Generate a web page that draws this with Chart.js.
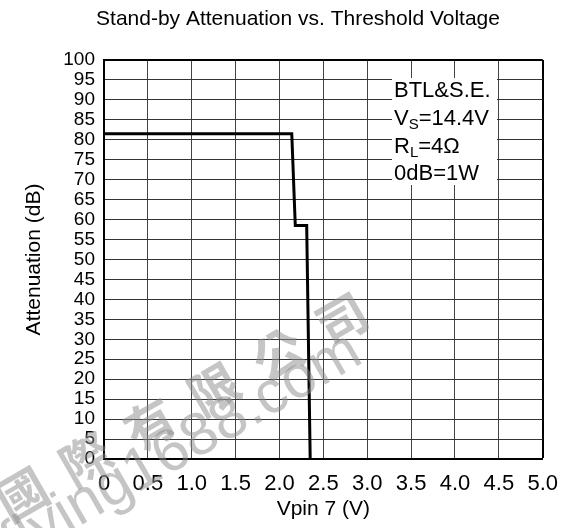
<!DOCTYPE html>
<html>
<head>
<meta charset="utf-8">
<script src="https://cdn.jsdelivr.net/npm/chart.js@4"></script>
<style>
  body { margin: 0; background: #fff; }
  #wrap { width: 570px; height: 528px; }
</style>
</head>
<body>
<div id="wrap"><canvas id="chart" width="570" height="528"></canvas></div>
<script>
// Curve
const voltage     = [0, 2.14, 2.18, 2.31, 2.35];
const attenuation = [81.5, 81.5, 58.5, 58.5, 0];

// Axis ranges / ticks
const xMin = 0, xMax = 5, xStep = 0.5;
const yMin = 0, yMax = 100, yStep = 5;

const titleText = 'Stand-by Attenuation vs. Threshold Voltage';
const xTitle = 'Vpin 7 (V)';
const yTitle = 'Attenuation (dB)';

// Note box, [text, isSubscript] parts per line
const noteLines = [
  [['BTL&S.E.', false]],
  [['V', false], ['S', true], ['=14.4V', false]],
  [['R', false], ['L', true], ['=4\u03A9', false]],
  [['0dB=1W', false]],
];

const watermarkCn = '國際有限公司';
const watermarkEn = 'flying1688.com';

const FONT = '"Liberation Sans", Arial, sans-serif';

const overlay = {
  id: 'overlay',
  afterDatasetsDraw(chart) {
    const ctx = chart.ctx;
    ctx.save();
    // title
    ctx.fillStyle = '#000';
    ctx.font = '21px ' + FONT;
    ctx.textAlign = 'center';
    ctx.textBaseline = 'alphabetic';
    ctx.fillText(titleText, 298, 25);

    // note box
    ctx.fillStyle = '#fff';
    ctx.fillRect(392, 78, 105, 107);
    ctx.fillStyle = '#000';
    ctx.textAlign = 'left';
    const baselines = [97, 125, 153, 180];
    noteLines.forEach((parts, i) => {
      let x = 394;
      parts.forEach(([t, sub]) => {
        ctx.font = (sub ? '15px ' : '22px ') + FONT;
        ctx.fillText(t, x, baselines[i] + (sub ? 4 : 0));
        x += ctx.measureText(t).width;
      });
    });
    ctx.restore();
  },
  afterDraw(chart) {
    // faint scanned watermark
    const ctx = chart.ctx;
    ctx.save();
    ctx.fillStyle = 'rgba(140,140,140,0.5)';
    ctx.textAlign = 'center';
    ctx.textBaseline = 'middle';
    const ang = -30 * Math.PI / 180;
    ctx.font = 'bold 50px "Noto Sans CJK TC", sans-serif';
    [...watermarkCn].forEach((ch, i) => {
      ctx.save();
      ctx.translate(22 + i * 64, 494 - i * 35);
      ctx.rotate(ang);
      ctx.fillText(ch, 0, 0);
      ctx.restore();
    });
    ctx.translate(182, 448);
    ctx.rotate(ang);
    ctx.font = '60px ' + FONT;
    ctx.fillText(watermarkEn, 0, 0);
    ctx.restore();
  }
};

new Chart(document.getElementById('chart'), {
  type: 'line',
  data: {
    datasets: [{
      data: voltage.map((v, i) => ({ x: v, y: attenuation[i] })),
      borderColor: '#000',
      borderWidth: 3,
      pointRadius: 0,
      tension: 0,
      fill: false,
    }],
  },
  options: {
    responsive: false,
    animation: false,
    devicePixelRatio: 1,
    layout: { padding: { left: 0, right: 25, top: 60, bottom: 0 } },
    plugins: {
      legend: { display: false },
      title: { display: false },
      tooltip: { enabled: false },
    },
    scales: {
      x: {
        type: 'linear',
        min: xMin, max: xMax,
        afterFit: s => { s.height = 69; },
        border: { color: '#000', width: 2 },
        grid: {
          drawTicks: false,
          color: c => c.tick.value === xMax ? '#000' : '#444',
          lineWidth: c => c.tick.value === xMax ? 2 : 1,
        },
        ticks: {
          stepSize: xStep,
          padding: 12,
          color: '#000',
          font: { family: FONT, size: 22 },
          maxRotation: 0,
          callback: v => v === 0 ? '0' : v.toFixed(1),
        },
        title: {
          display: true, text: xTitle, color: '#000',
          font: { family: FONT, size: 21 },
          padding: { top: 6, bottom: 6 },
        },
      },
      y: {
        min: yMin, max: yMax,
        afterFit: s => { s.width = 104; },
        border: { color: '#000', width: 2 },
        grid: {
          drawTicks: false,
          color: c => c.tick.value === yMax ? '#000' : '#333',
          lineWidth: c => c.tick.value === yMax ? 2 : 1,
        },
        ticks: {
          stepSize: yStep,
          padding: 9,
          color: '#000',
          autoSkip: false,
          font: { family: FONT, size: 19 },
        },
        title: {
          display: true, text: yTitle, color: '#000',
          font: { family: FONT, size: 21 },
          padding: { top: 22, bottom: 0 },
        },
      },
    },
  },
  plugins: [overlay],
});
</script>
</body>
</html>
